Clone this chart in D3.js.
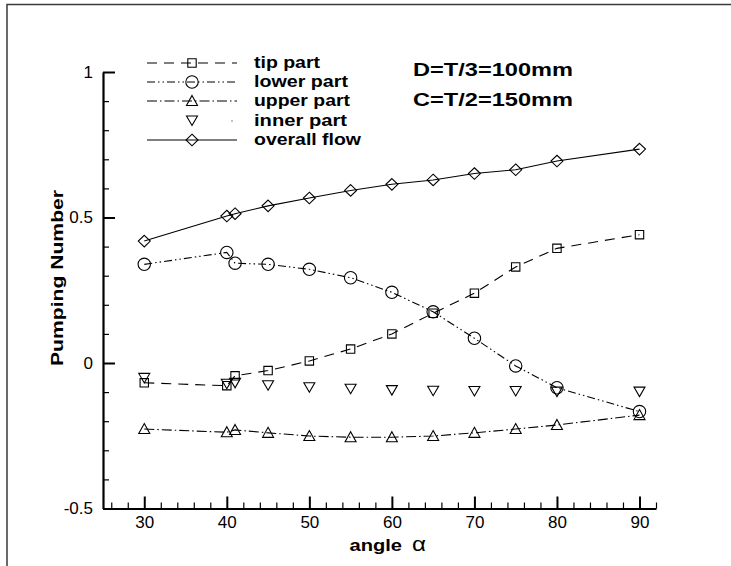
<!DOCTYPE html>
<html><head><meta charset="utf-8">
<script src="https://cdn.jsdelivr.net/npm/d3@7"></script>
<style>
html,body{margin:0;padding:0;background:#fff;}
svg{display:block;}
text{font-family:"Liberation Sans",Arial,sans-serif;fill:#000;}
</style></head>
<body>
<svg id="chart" width="731" height="566"></svg>
<script>
const angles = [30, 40, 41, 45, 50, 55, 60, 65, 70, 75, 80, 90];
const tipPart   = [-0.068, -0.078, -0.044, -0.026, 0.007, 0.048, 0.100, 0.171, 0.240, 0.330, 0.394, 0.441];
const lowerPart = [0.339, 0.380, 0.343, 0.339, 0.322, 0.293, 0.243, 0.176, 0.085, -0.010, -0.085, -0.167];
const upperPart = [-0.227, -0.238, -0.230, -0.240, -0.251, -0.255, -0.255, -0.251, -0.240, -0.227, -0.213, -0.179];
const innerPart = [-0.053, -0.073, -0.070, -0.078, -0.085, -0.090, -0.095, -0.097, -0.098, -0.098, -0.100, -0.100];
const overallFlow = [0.419, 0.505, 0.513, 0.540, 0.567, 0.593, 0.614, 0.629, 0.651, 0.664, 0.694, 0.735];
const seriesNames = ["tip part", "lower part", "upper part", "inner part", "overall flow"];
const xTicks = [30, 40, 50, 60, 70, 80, 90];
const yTicks = [-0.5, 0, 0.5, 1];
const yTickLabels = ["-0.5", "0", "0.5", "1"];
const notes = ["D=T/3=100mm", "C=T/2=150mm"];

const svg = d3.select("#chart");
const x = d3.scaleLinear().domain([25, 92]).range([103, 656]);
const y = d3.scaleLinear().domain([-0.5, 1]).range([508.5, 72]);

// outer frame (top and left edges)
svg.append("path").attr("d", "M7,566 L7,4.5 L731,4.5")
  .attr("fill", "none").attr("stroke", "#3a3a3a").attr("stroke-width", 1.5);

const series = [
  {name: seriesNames[0], vals: tipPart, dash: "10,7", marker: "square", line: true, tl: 66},
  {name: seriesNames[1], vals: lowerPart, dash: "8,3,1.5,3,1.5,3", marker: "circle", line: true, tl: 94},
  {name: seriesNames[2], vals: upperPart, dash: "10,3,1.5,3", marker: "triangle", line: true, tl: 96},
  {name: seriesNames[3], vals: innerPart, dash: null, marker: "triangleDown", line: false, tl: 93},
  {name: seriesNames[4], vals: overallFlow, dash: null, marker: "diamond", line: true, tl: 107}
];

function markerPath(type) {
  switch (type) {
    case "square": return "M-4.2,-4.2 H4.2 V4.2 H-4.2 Z";
    case "circle": return d3.arc()({innerRadius:0, outerRadius:6.2, startAngle:0, endAngle:2*Math.PI});
    case "triangle": return "M0,-5.5 L5.5,4.5 L-5.5,4.5 Z";
    case "triangleDown": return "M0,4.5 L5.5,-5 L-5.5,-5 Z";
    case "diamond": return "M0,-5.8 L6,0 L0,5.8 L-6,0 Z";
  }
}

// axes
const gx = svg.append("g").attr("transform", "translate(0,508.5)");
gx.call(d3.axisBottom(x).tickValues(d3.range(26, 93, 2).filter(v => v % 10 !== 0)).tickSizeInner(-6).tickSizeOuter(0).tickFormat(""));
gx.selectAll(".tick line").attr("stroke-width", 1.2);
gx.select(".domain").remove();
const gx2 = svg.append("g").attr("transform", "translate(0,508.5)");
gx2.call(d3.axisBottom(x).tickValues(xTicks).tickSizeInner(-12).tickSizeOuter(0).tickPadding(7).tickFormat(d3.format("d")));
gx2.selectAll(".tick line").attr("stroke-width", 2);
gx2.selectAll(".tick text").attr("font-size", 17).attr("font-family", "Liberation Sans, Arial, sans-serif");
gx2.select(".domain").attr("stroke-width", 2.2);

const gy = svg.append("g").attr("transform", "translate(103,0)");
gy.call(d3.axisLeft(y).tickValues(d3.range(-5, 11, 1).map(v => v / 10).filter(v => Math.abs(v * 2 - Math.round(v * 2)) > 1e-6)).tickSizeInner(-6).tickSizeOuter(0).tickFormat(""));
gy.selectAll(".tick line").attr("stroke-width", 1.2);
gy.select(".domain").remove();
const gy2 = svg.append("g").attr("transform", "translate(103,0)");
gy2.call(d3.axisLeft(y).tickValues(yTicks).tickSizeInner(-12).tickSizeOuter(0).tickPadding(10).tickFormat((d, i) => yTickLabels[i]));
gy2.selectAll(".tick line").attr("stroke-width", 2);
gy2.selectAll(".tick text").attr("font-size", 17).attr("font-family", "Liberation Sans, Arial, sans-serif");
gy2.select(".domain").attr("stroke-width", 2.2);

// axis titles
svg.append("text").attr("transform", "translate(63,278) rotate(-90)")
  .attr("text-anchor", "middle").attr("font-weight", "bold").attr("font-size", 17)
  .attr("textLength", 176).attr("lengthAdjust", "spacingAndGlyphs").text("Pumping Number");
svg.append("text").attr("x", 349.5).attr("y", 551).attr("font-weight", "bold").attr("font-size", 17)
  .attr("textLength", 52.5).attr("lengthAdjust", "spacingAndGlyphs").text("angle");
svg.append("text").attr("x", 412).attr("y", 551).attr("font-size", 20)
  .attr("font-family", "Liberation Serif, DejaVu Serif, serif")
  .attr("textLength", 14).attr("lengthAdjust", "spacingAndGlyphs").text("α");

// lines and markers
const lineGen = d3.line().x((d, i) => x(angles[i])).y(d => y(d));
series.forEach(s => {
  if (s.line) {
    svg.append("path").datum(s.vals).attr("d", lineGen)
      .attr("fill", "none").attr("stroke", "#000").attr("stroke-width", 1.1)
      .attr("stroke-dasharray", s.dash);
  }
  svg.append("g").selectAll("path").data(s.vals).join("path")
    .attr("d", markerPath(s.marker))
    .attr("transform", (d, i) => `translate(${x(angles[i])},${y(d)})`)
    .attr("fill", "none").attr("stroke", "#000").attr("stroke-width", 1.1);
});

// legend
const legRows = [63, 82, 101, 121, 140];
series.forEach((s, i) => {
  const ly = legRows[i];
  if (s.line) {
    svg.append("line").attr("x1", 147).attr("x2", 237).attr("y1", ly).attr("y2", ly)
      .attr("stroke", "#000").attr("stroke-width", 1.1).attr("stroke-dasharray", s.dash);
  } else {
    svg.append("rect").attr("x", 231.5).attr("y", ly - 0.5).attr("width", 1).attr("height", 1).attr("fill", "#000");
  }
  svg.append("path").attr("d", markerPath(s.marker)).attr("transform", `translate(192,${ly})`)
    .attr("fill", "none").attr("stroke", "#000").attr("stroke-width", 1.1);
  svg.append("text").attr("x", 254).attr("y", ly + 5).attr("font-weight", "bold").attr("font-size", 16)
    .attr("textLength", s.tl).attr("lengthAdjust", "spacingAndGlyphs").text(s.name);
});

// annotations
svg.append("text").attr("x", 413).attr("y", 76).attr("font-weight", "bold").attr("font-size", 17.5)
  .attr("textLength", 160).attr("lengthAdjust", "spacingAndGlyphs").text(notes[0]);
svg.append("text").attr("x", 413).attr("y", 105.5).attr("font-weight", "bold").attr("font-size", 17.5)
  .attr("textLength", 160).attr("lengthAdjust", "spacingAndGlyphs").text(notes[1]);
</script>
</body></html>
